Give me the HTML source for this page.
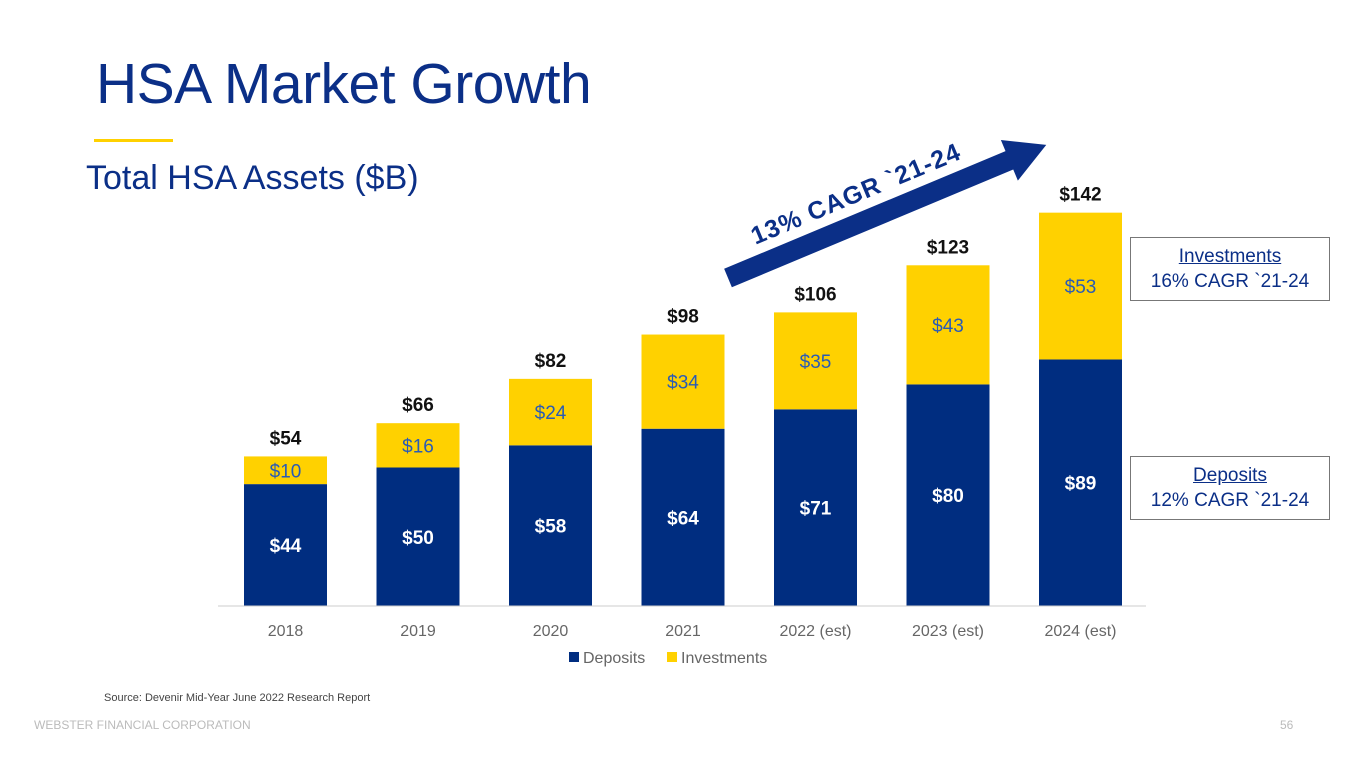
<!DOCTYPE html>
<html><head><meta charset="utf-8"><style>
body{margin:0;width:1365px;height:768px;background:#fff;font-family:"Liberation Sans",sans-serif;overflow:hidden;position:relative}
.abs{position:absolute}
</style></head><body>
<div class="abs" style="left:96px;top:51px;font-size:57px;color:#0b2f87;letter-spacing:-0.5px">HSA Market Growth</div>
<div class="abs" style="left:94px;top:139px;width:79px;height:3px;background:#ffd100"></div>
<div class="abs" style="left:86px;top:159px;font-size:34px;color:#0b2f87">Total HSA Assets ($B)</div>
<svg class="abs" style="left:0;top:0" width="1365" height="768" id="chart"></svg>
<div class="abs" style="left:1130px;top:237px;width:200px;height:64px;border:1px solid #777;box-sizing:border-box;text-align:center;font-size:19px;line-height:25px;color:#0b2f87;padding-top:6px"><u>Investments</u><br>16% CAGR `21-24</div>
<div class="abs" style="left:1130px;top:456px;width:200px;height:64px;border:1px solid #777;box-sizing:border-box;text-align:center;font-size:19px;line-height:25px;color:#0b2f87;padding-top:6px"><u>Deposits</u><br>12% CAGR `21-24</div>
<div class="abs" style="left:104px;top:692px;font-size:11px;color:#444">Source: Devenir Mid-Year June 2022 Research Report</div>
<div class="abs" style="left:34px;top:718px;font-size:12px;color:#bbb">WEBSTER FINANCIAL CORPORATION</div>
<div class="abs" style="left:1280px;top:718px;font-size:12px;color:#bbb">56</div>
<script>
const categories=["2018","2019","2020","2021","2022 (est)","2023 (est)","2024 (est)"];
const deposits=[44,50,58,64,71,80,89];
const investments=[10,16,24,34,35,43,53];
const totals=[54,66,82,98,106,123,142];
const NS="http://www.w3.org/2000/svg";
const svg=document.getElementById('chart');
const base=606,k=2.77,x0=285.5,step=132.5,bw=83;
const X=i=>x0+i*step, Y=v=>base-v*k;
function mk(t,a,txt){const e=document.createElementNS(NS,t);for(const p in a)e.setAttribute(p,a[p]);if(txt!=null)e.textContent=txt;svg.appendChild(e);return e;}
categories.forEach((c,i)=>{
 let e=mk('rect',{x:X(i)-bw/2,y:Y(deposits[i]),width:bw,height:deposits[i]*k,fill:'#002d80'});
 
 e=mk('rect',{x:X(i)-bw/2,y:Y(deposits[i]+investments[i]),width:bw,height:investments[i]*k,fill:'#ffd100'});
 
 e=mk('text',{x:X(i),y:Y(deposits[i]/2)+7,'text-anchor':'middle','font-size':19,'font-weight':'bold',fill:'#fff'},'$'+deposits[i]);
 
 e=mk('text',{x:X(i),y:Y(deposits[i]+investments[i]/2)+7,'text-anchor':'middle','font-size':19,fill:'#2a5bb5'},'$'+investments[i]);
 
 e=mk('text',{x:X(i),y:Y(totals[i])-12,'text-anchor':'middle','font-size':19,'font-weight':'bold',fill:'#111'},'$'+totals[i]);
 
 e=mk('text',{x:X(i),y:636,'text-anchor':'middle','font-size':16,fill:'#666'},c);
 
});
let ax=mk('line',{x1:218,x2:1146,y1:base,y2:base,stroke:'#ccc','stroke-width':1});

let g=mk('g',{transform:'translate(728,278) rotate(-22.7)'});

const ar=document.createElementNS(NS,'polygon');ar.setAttribute('points','0,-10 305,-10 305,-22 345,0 305,22 305,10 0,10');ar.setAttribute('fill','#0b2f87');g.appendChild(ar);
const at=document.createElementNS(NS,'text');at.setAttribute('x',38);at.setAttribute('y',-20);at.setAttribute('font-size',25);at.setAttribute('font-weight','bold');at.setAttribute('fill','#0b2f87');at.setAttribute('letter-spacing','1');at.textContent='13% CAGR `21-24';

g.appendChild(at);
let l=mk('rect',{x:569,y:652,width:10,height:10,fill:'#002d80'});
l=mk('text',{x:583,y:663,'font-size':16,fill:'#666'},'Deposits');
l=mk('rect',{x:667,y:652,width:10,height:10,fill:'#ffd100'});
l=mk('text',{x:681,y:663,'font-size':16,fill:'#666'},'Investments');
</script>
</body></html>
